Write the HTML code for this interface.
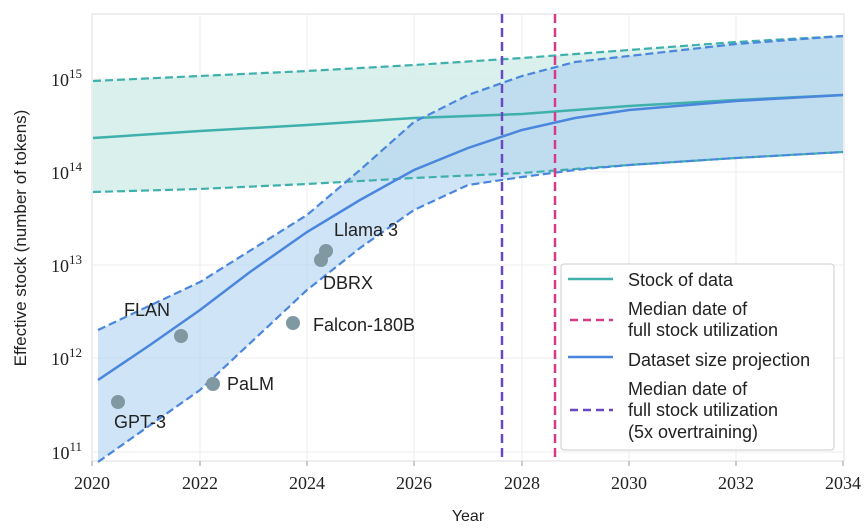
<!DOCTYPE html>
<html><head><style>
body{margin:0;background:#fff}
svg{display:block;font-family:"Liberation Sans",sans-serif}
.t{font-family:"Liberation Serif",serif;font-size:18px;fill:#222}
</style></head><body>
<svg width="868" height="528" viewBox="0 0 868 528">
<rect x="92" y="14" width="752" height="447" fill="#fff" stroke="#ddd"/>
<g stroke="#eee" stroke-width="1">
<line x1="200" y1="14" x2="200" y2="461"/><line x1="307" y1="14" x2="307" y2="461"/>
<line x1="414" y1="14" x2="414" y2="461"/><line x1="522" y1="14" x2="522" y2="461"/>
<line x1="629" y1="14" x2="629" y2="461"/><line x1="736" y1="14" x2="736" y2="461"/>
<line x1="92" y1="79" x2="844" y2="79"/><line x1="92" y1="172" x2="844" y2="172"/>
<line x1="92" y1="265" x2="844" y2="265"/><line x1="92" y1="358" x2="844" y2="358"/>
<line x1="92" y1="452" x2="844" y2="452"/>
</g>
<polygon points="93,81 200,76 307,71 414,65 522,58 629,50 736,42 843,36 843,152 736,158 629,165 522,173 414,178 307,184 200,189 93,192" fill="#d5eeea" opacity="0.9"/>
<polygon points="98,330 200,282 307,215 360,170 414,122 468,95 522,76 575,62 629,56 736,44 843,36 843,152 736,158 629,165 575,170 522,177 468,185 414,210 360,248 307,290 200,390 98,462" fill="#a9cdf0" opacity="0.55"/>
<polyline points="93,138 200,131 307,125 414,118 522,114 629,106 736,100 843,95" fill="none" stroke="#3fb0ac" stroke-width="2.5"/>
<polyline points="93,81 200,76 307,71 414,65 522,58 629,50 736,42 843,36" fill="none" stroke="#3fb0ac" stroke-width="2.2" stroke-dasharray="8,4"/>
<polyline points="93,192 200,189 307,184 414,178 522,173 629,165 736,158 843,152" fill="none" stroke="#3fb0ac" stroke-width="2.2" stroke-dasharray="8,4"/>
<polyline points="98,380 150,345 200,310 250,272 307,232 360,200 414,170 468,148 522,130 575,118 629,110 736,101 843,95" fill="none" stroke="#4a86dd" stroke-width="2.5"/>
<polyline points="98,330 200,282 307,215 360,170 414,122 468,95 522,76 575,62 629,56 736,44 843,36" fill="none" stroke="#4a86dd" stroke-width="2.2" stroke-dasharray="8,4"/>
<polyline points="98,462 200,390 307,290 360,248 414,210 468,185 522,177 575,170 629,165 736,158 843,152" fill="none" stroke="#4a86dd" stroke-width="2.2" stroke-dasharray="8,4"/>
<line x1="502" y1="14" x2="502" y2="461" stroke="#6a48c4" stroke-width="2.5" stroke-dasharray="9,5"/>
<line x1="555" y1="14" x2="555" y2="461" stroke="#d83a8a" stroke-width="2.5" stroke-dasharray="9,5"/>
<g fill="#7f98a2">
<circle cx="118" cy="402" r="7"/><circle cx="181" cy="336" r="7"/><circle cx="213" cy="384" r="7"/>
<circle cx="293" cy="323" r="7"/><circle cx="321" cy="260" r="7"/><circle cx="326" cy="251" r="7"/>
</g>
<g font-size="18" fill="#222">
<text x="114" y="428">GPT-3</text><text x="124" y="316">FLAN</text><text x="227" y="390">PaLM</text>
<text x="313" y="331">Falcon-180B</text><text x="323" y="289">DBRX</text><text x="334" y="236">Llama 3</text>
</g>
<rect x="561" y="264" width="273" height="186" rx="3" fill="#fff" fill-opacity="0.9" stroke="#ccc"/>
<line x1="568" y1="279" x2="613" y2="279" stroke="#3fb0ac" stroke-width="2.5"/>
<line x1="570" y1="320" x2="613" y2="320" stroke="#d83a8a" stroke-width="2.5" stroke-dasharray="8,5"/>
<line x1="568" y1="357" x2="613" y2="357" stroke="#4a86dd" stroke-width="2.5"/>
<line x1="570" y1="410" x2="613" y2="410" stroke="#6a48c4" stroke-width="2.5" stroke-dasharray="8,5"/>
<g font-size="18" fill="#222">
<text x="628" y="286">Stock of data</text>
<text x="628" y="315">Median date of</text><text x="628" y="336">full stock utilization</text>
<text x="628" y="366">Dataset size projection</text>
<text x="628" y="395">Median date of</text><text x="628" y="416">full stock utilization</text><text x="628" y="438">(5x overtraining)</text>
</g>
<g stroke="#999"><line x1="92" y1="461" x2="92" y2="466"/><line x1="200" y1="461" x2="200" y2="466"/><line x1="307" y1="461" x2="307" y2="466"/><line x1="414" y1="461" x2="414" y2="466"/><line x1="522" y1="461" x2="522" y2="466"/><line x1="629" y1="461" x2="629" y2="466"/><line x1="736" y1="461" x2="736" y2="466"/><line x1="843" y1="461" x2="843" y2="466"/></g>
<g text-anchor="middle">
<text x="92" y="489" class="t">2020</text><text x="200" y="489" class="t">2022</text><text x="307" y="489" class="t">2024</text><text x="414" y="489" class="t">2026</text><text x="522" y="489" class="t">2028</text><text x="629" y="489" class="t">2030</text><text x="736" y="489" class="t">2032</text><text x="843" y="489" class="t">2034</text>
</g>
<g text-anchor="end">
<text x="82" y="86" class="t">10<tspan font-size="13" dy="-8">15</tspan></text>
<text x="82" y="179" class="t">10<tspan font-size="13" dy="-8">14</tspan></text>
<text x="82" y="272" class="t">10<tspan font-size="13" dy="-8">13</tspan></text>
<text x="82" y="365" class="t">10<tspan font-size="13" dy="-8">12</tspan></text>
<text x="82" y="459" class="t">10<tspan font-size="13" dy="-8">11</tspan></text>
</g>
<text x="468" y="521" font-size="16" fill="#222" text-anchor="middle">Year</text>
<text transform="translate(26,238) rotate(-90)" font-size="17" fill="#222" text-anchor="middle">Effective stock (number of tokens)</text>
</svg>
</body></html>
